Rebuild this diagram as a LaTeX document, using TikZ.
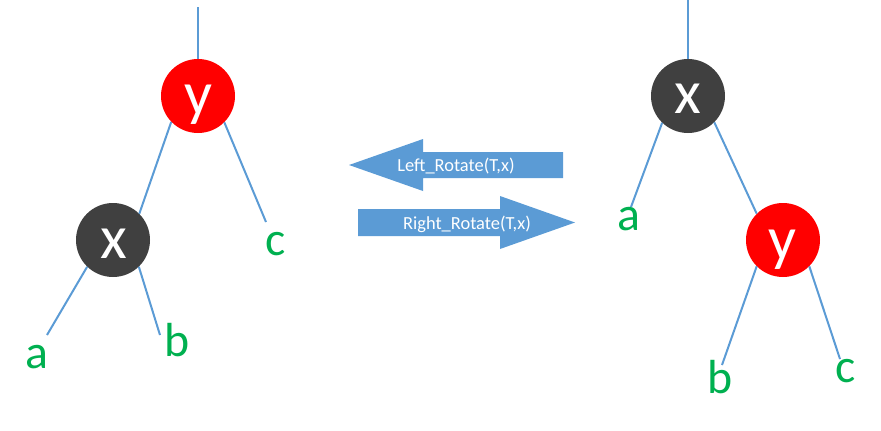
\documentclass[tikz,border=0pt]{standalone}
\usepackage{fontspec}
\setmainfont{Carlito}
\definecolor{edgeblue}{HTML}{5B9BD5}
\definecolor{nodered}{HTML}{FF0000}
\definecolor{nodedark}{HTML}{404040}
\definecolor{leafgreen}{HTML}{00B050}
\tikzset{
  rbnode/.style={circle, minimum size=74bp, inner sep=0pt},
  rednode/.style={rbnode, fill=nodered},
  darknode/.style={rbnode, fill=nodedark},
  keytext/.style={inner sep=0pt, text=white, font=\fontsize{62}{62}\selectfont},
  leaf/.style={inner sep=0pt, text=leafgreen, font=\fontsize{48}{48}\selectfont},
  edge/.style={draw=edgeblue, line width=2bp},
  bigarrow/.style={fill=edgeblue},
  arrowtext/.style={inner sep=0pt, text=white, font=\fontsize{18.5}{18.5}\selectfont, anchor=base}
}
\begin{document}
\begin{tikzpicture}[x=1bp,y=-1bp]
\useasboundingbox (0,0) rectangle (881,430);
% ---------- left tree ----------
\node[rednode] (y1) at (198,96) {};
\node[darknode] (x1) at (113,240) {};
\node[keytext] (ty1) at (198,105) {y};
\node[keytext] (tx1) at (114,244) {x};
\node[leaf] (a1) at (37,357) {a};
\node[leaf] (b1) at (177,340) {b};
\node[leaf] (c1) at (276,244) {c};
\coordinate (top1) at (198,7);
\coordinate (ea1) at (47,335);
\coordinate (eb1) at (160,335);
\coordinate (ec1) at (266,222);
\draw[edge] (top1) -- (y1.north);
\draw[edge] (y1.224) -- (x1.45);
\draw[edge] (y1.315) -- (ec1);
\draw[edge] (x1.226) -- (ea1);
\draw[edge] (x1.314) -- (eb1);
% ---------- right tree ----------
\node[darknode] (x2) at (688,96) {};
\node[rednode] (y2) at (783,240) {};
\node[keytext] (tx2) at (688,99) {x};
\node[keytext] (ty2) at (782,250) {y};
\node[leaf] (a2) at (629,219) {a};
\node[leaf] (b2) at (720,377) {b};
\node[leaf] (c2) at (846,371) {c};
\coordinate (top2) at (688,0);
\coordinate (ea2) at (631,207);
\coordinate (eb2) at (722,365);
\coordinate (ec2) at (840,359);
\draw[edge] (top2) -- (x2.north);
\draw[edge] (x2.226) -- (ea2);
\draw[edge] (x2.315) -- (y2.135);
\draw[edge] (y2.225) -- (eb2);
\draw[edge] (y2.315) -- (ec2);
% ---------- rotation arrows ----------
\fill[bigarrow] (349,165) -- (423,139) -- (423,152) -- (563,152) -- (563,178) -- (423,178) -- (423,191) -- cycle;
\fill[bigarrow] (358,209) -- (500,209) -- (500,196) -- (575,222.5) -- (500,249) -- (500,236) -- (358,236) -- cycle;
\node[arrowtext] (lrot) at (456,171) {Left\_Rotate(T,x)};
\node[arrowtext] (rrot) at (467,229) {Right\_Rotate(T,x)};
\end{tikzpicture}
\end{document}
